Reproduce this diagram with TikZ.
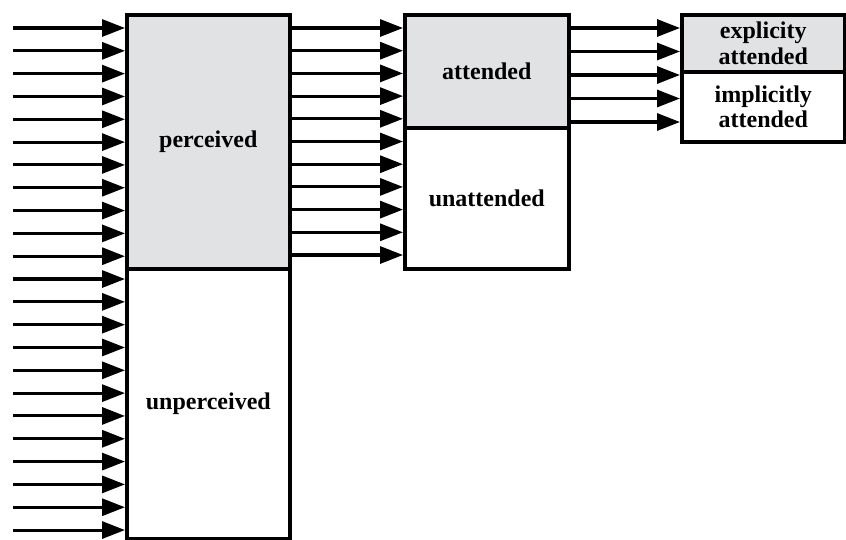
\documentclass[tikz,border=0pt]{standalone}
\usepackage{fontspec}
\setmainfont{Liberation Serif}
\usetikzlibrary{arrows.meta}
\definecolor{boxgray}{RGB}{225,226,227}
\tikzset{
  boxshape/.style={draw=black, line width=3.6pt, rectangle, inner sep=0pt, anchor=north west,
    align=center, font=\bfseries\fontsize{24}{25.5}\selectfont},
  grayfill/.style={fill=boxgray},
  inarrow/.style={line width=3.1pt, -{Triangle[length=23pt,width=17pt]}}
}
\begin{document}
\begin{tikzpicture}[x=1pt,y=-1pt]
\useasboundingbox (0,0) rectangle (846,539);
% column 1
\node[boxshape, grayfill, minimum width=163pt, minimum height=254pt] (perc) at (125,13) {perceived};
\node[boxshape, minimum width=163pt, minimum height=270pt] (unperc) at (125,267) {unperceived};
% column 2
\node[boxshape, grayfill, minimum width=164pt, minimum height=113pt] (att) at (403,13) {attended};
\node[boxshape, minimum width=164pt, minimum height=141pt] (unatt) at (403,126) {unattended};
% column 3
\node[boxshape, grayfill, minimum width=163pt, minimum height=57pt] (expl) at (680,13) {explicity\\attended};
\node[boxshape, minimum width=163pt, minimum height=70pt] (impl) at (680,70) {implicitly\\attended};
% arrows into column 1
\foreach \i in {0,...,22}{
  \coordinate (a\i) at (13,{28+\i*22.82});
  \draw[inarrow] (a\i) -- (a\i -| perc.west);
}
% arrows into column 2
\foreach \i in {0,...,10}{
  \coordinate (b\i) at (292,{28+\i*22.7});
  \draw[inarrow] (b\i) -- (b\i -| att.west);
}
% arrows into column 3
\foreach \i in {0,...,4}{
  \coordinate (c\i) at (570,{28+\i*23.5});
  \draw[inarrow] (c\i) -- (c\i -| expl.west);
}
\end{tikzpicture}
\end{document}
